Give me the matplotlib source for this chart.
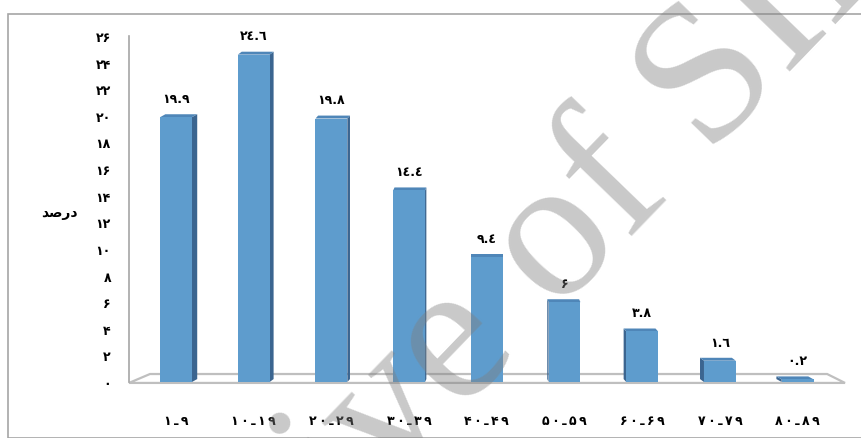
import matplotlib
matplotlib.use("Agg")
import matplotlib.pyplot as plt
import matplotlib.patches as mpatches
import numpy as np

# age groups and percent of cases
groups = ["1-9", "10-19", "20-29", "30-39", "40-49", "50-59", "60-69", "70-79", "80-89"]
percent = [19.9, 24.6, 19.8, 14.4, 9.4, 6, 3.8, 1.6, 0.2]
yticks = list(range(0, 27, 2))

FA = str.maketrans("0123456789", "۰۱۲۳۴۵۶۷۸۹")
AR = str.maketrans("0123456789", "۰۱۲۳٤۵٦۷۸۹")


def fa_num(s):
    return str(s).translate(FA)


def value_label(v):
    # decimal labels in the original use the arabic forms of 4 and 6
    if float(v).is_integer():
        return fa_num(int(v))
    return "{:.1f}".format(v).translate(AR)


def cat_label(g):
    # spaced out digits, tatweel as the dash
    return "\u2009".join(fa_num(g).replace("-", "ـ"))


fig = plt.figure(figsize=(8.61, 4.39), dpi=100)
W, H = 861, 439

# outer chart frame
fig.patches.append(mpatches.Rectangle((8 / W, 0), 1, 1 - 15 / H, transform=fig.transFigure,
                                      fill=False, edgecolor="#a6a6a6", lw=1.2))

ax = fig.add_axes([129 / W, (H - 383) / H, (845 - 129) / W, 346 / H])
x = np.arange(len(groups))
ax.set_xlim(-0.605, 8.61)
ax.set_ylim(0, 26)

front = "#5e9ccd"
side = "#3b6590"
top = "#4f86b8"
bw = 0.41
k = 0.017   # perspective of the side faces
dy = 0.22

# 3d floor
fl = [(-0.605, -0.07), (-0.335, 0.6), (8.38, 0.6), (8.61, -0.07), (-0.605, -0.07)]
ax.add_patch(mpatches.Polygon(fl, closed=True, facecolor="white", edgecolor="#bfbfbf",
                              lw=1.6, clip_on=False, zorder=1))

ax.bar(x, percent, width=bw, color=front, zorder=3)
for xi, v in zip(x, percent):
    s = (4 - xi) * k
    xe = xi + bw / 2 if s > 0 else xi - bw / 2
    if s != 0:
        ax.add_patch(mpatches.Polygon([(xe, 0), (xe + s, dy), (xe + s, v + dy), (xe, v)],
                                      facecolor=side, edgecolor="none", zorder=2))
    ax.add_patch(mpatches.Polygon([(xi - bw / 2, v), (xi + bw / 2, v),
                                   (xi + bw / 2 + s, v + dy), (xi - bw / 2 + s, v + dy)],
                                  facecolor=top, edgecolor="none", zorder=2))
    ax.text(xi, v + 1.4, value_label(v), ha="center", va="center",
            fontsize=9, fontweight="bold", family="DejaVu Sans")

for sp in ["top", "right", "bottom"]:
    ax.spines[sp].set_visible(False)
ax.spines["left"].set_color("#a6a6a6")
ax.spines["left"].set_linewidth(1.2)

ax.set_yticks(yticks)
ax.set_yticklabels([fa_num(t) for t in yticks], fontsize=9, fontweight="bold")
ax.set_xticks(x)
ax.set_xticklabels([cat_label(g) for g in groups], fontsize=9, fontweight="bold")
ax.tick_params(axis="y", length=0, pad=13)
ax.tick_params(axis="x", length=0, pad=23)

# y title, pre-shaped so it reads correctly
fig.text(59 / W, 1 - 213 / H, "\ufeaa\ufebb\ufead\ufea9", ha="center", va="center",
         fontsize=10, fontweight="bold")

# watermark
fig.text(502 / W, 1 - 370 / H, "Archive of SID", family="Liberation Serif", fontsize=145,
         color="#7f7f7f", alpha=0.42, rotation=46, ha="center", va="baseline",
         rotation_mode="anchor", zorder=10)

fig.savefig("out.png", dpi=100)
